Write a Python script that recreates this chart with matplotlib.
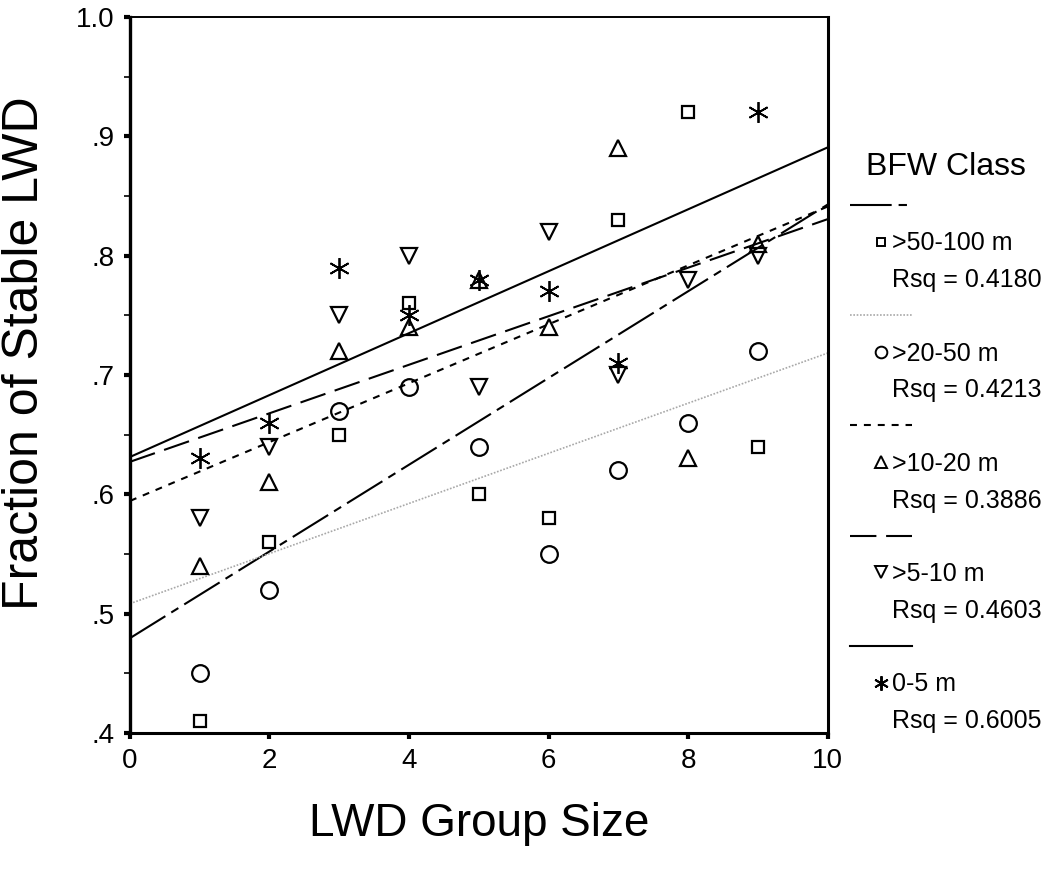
import numpy as np
import matplotlib
matplotlib.use("Agg")
import matplotlib.pyplot as plt
from matplotlib.lines import Line2D
from matplotlib.ticker import MultipleLocator

plt.rcParams['font.family'] = ['Liberation Sans', 'DejaVu Sans']
plt.rcParams['lines.scale_dashes'] = False

# LWD group size vs fraction of stable LWD, by bankfull width class
group_size = [1, 2, 3, 4, 5, 6, 7, 8, 9]
group_size_0_5 = [1, 2, 3, 4, 5, 6, 7, 9]

frac_50_100 = [0.41, 0.56, 0.65, 0.76, 0.60, 0.58, 0.83, 0.92, 0.64]
frac_20_50 = [0.45, 0.52, 0.67, 0.69, 0.64, 0.55, 0.62, 0.66, 0.72]
frac_10_20 = [0.54, 0.61, 0.72, 0.74, 0.78, 0.74, 0.89, 0.63, 0.81]
frac_5_10 = [0.58, 0.64, 0.75, 0.80, 0.69, 0.82, 0.70, 0.78, 0.80]
frac_0_5 = [0.63, 0.66, 0.79, 0.75, 0.78, 0.77, 0.71, 0.92]

bfw_classes = [">50-100 m", ">20-50 m", ">10-20 m", ">5-10 m", "0-5 m"]
rsq_values = ["0.4180", "0.4213", "0.3886", "0.4603", "0.6005"]

series = [
    (group_size, frac_50_100, dict(marker='s', ms=9, mew=1.6),
     dict(color='black', lw=1.5, dashes=(30, 5, 6, 5))),
    (group_size, frac_20_50, dict(marker='o', ms=12, mew=1.6),
     dict(color='#a8a8a8', lw=1.2, dashes=(1.2, 1.2))),
    (group_size, frac_10_20, dict(marker='^', ms=12, mew=1.6),
     dict(color='black', lw=1.5, dashes=(5, 5))),
    (group_size, frac_5_10, dict(marker='v', ms=12, mew=1.6),
     dict(color='black', lw=1.5, dashes=(19, 7))),
    (group_size_0_5, frac_0_5, dict(marker=(6, 2, 0), ms=15, mew=1.3),
     dict(color='black', lw=1.5, ls='-')),
]

fig = plt.figure(figsize=(10.61, 8.71), dpi=100)
ax = fig.add_axes([0.1225, 0.1585, 0.6575, 0.822])

xfit = np.linspace(0, 10, 50)
handles, labels = [], []
for (xs, ys, mk, ln), name, rsq in zip(series, bfw_classes, rsq_values):
    slope, icpt = np.polyfit(xs, ys, 1)
    ax.plot(xfit, icpt + slope * xfit, **ln)
    ax.plot(xs, ys, ls='none', mfc='none', mec='black', **mk)
    handles += [Line2D([], [], **ln),
                Line2D([], [], ls='none', mfc='none', mec='black', mew=1.4,
                       marker=mk['marker'], ms=mk['ms'] * 0.7),
                Line2D([], [], ls='none')]
    labels += ['', name, 'Rsq = ' + rsq]

ax.set_xlim(0, 10)
ax.set_ylim(0.4, 1.0)
ax.set_xticks(range(0, 11, 2))
ax.set_yticks(np.arange(0.4, 1.01, 0.1))
ax.set_yticklabels(['.4', '.5', '.6', '.7', '.8', '.9', '1.0'])
ax.yaxis.set_minor_locator(MultipleLocator(0.05))
ax.tick_params(axis='both', which='major', direction='out', length=4,
               width=3, labelsize=20, pad=7)
ax.tick_params(axis='y', which='minor', direction='out', length=4, width=1.2)

for side, w in [('left', 2.4), ('bottom', 2.2), ('right', 2.2), ('top', 1.4)]:
    ax.spines[side].set_linewidth(w)

ax.set_xlabel('LWD Group Size', fontsize=33, labelpad=20)
ax.set_ylabel('Fraction of Stable LWD', fontsize=36)
ax.yaxis.set_label_coords(-0.117, 0.53)

leg = ax.legend(handles, labels, loc='upper left',
                bbox_to_anchor=(0.789, 0.84), bbox_transform=fig.transFigure,
                frameon=False, fontsize=18, title='BFW Class',
                title_fontsize=23, handlelength=2.5, handletextpad=-0.8,
                labelspacing=0.51, borderpad=0)

fig.savefig('out.png', dpi=100)
